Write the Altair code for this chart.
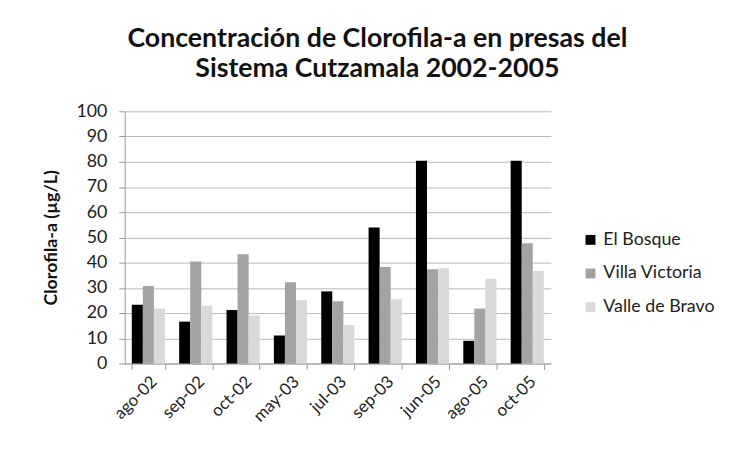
import altair as alt
import pandas as pd

months = ["ago-02", "sep-02", "oct-02", "may-03", "jul-03", "sep-03", "jun-05", "ago-05", "oct-05"]
series = ["El Bosque", "Villa Victoria", "Valle de Bravo"]
el_bosque = [23.3, 16.6, 21.2, 11.1, 28.6, 53.9, 80.4, 9.0, 80.4]
villa_victoria = [30.7, 40.4, 43.3, 32.2, 24.7, 38.3, 37.4, 21.8, 47.7]
valle_bravo = [21.8, 22.9, 19.0, 25.1, 15.3, 25.5, 37.8, 33.6, 36.7]
colors = ["#000000", "#a3a3a3", "#d9d9d9"]

rows = []
for name, vals in zip(series, [el_bosque, villa_victoria, valle_bravo]):
    for m, v in zip(months, vals):
        rows.append({"mes": m, "presa": name, "valor": v})
df = pd.DataFrame(rows)

FONT = "Lato"

chart = alt.Chart(df).mark_bar().encode(
    x=alt.X("mes:N", sort=months, title=None,
            scale=alt.Scale(paddingInner=0.3, paddingOuter=0.15),
            axis=alt.Axis(labelAngle=-45, labelFontSize=17, labelColor="#222",
                          tickBand="extent", grid=False, domainColor="#999",
                          tickColor="#999", tickSize=6, labelPadding=4)),
    xOffset=alt.XOffset("presa:N", sort=series),
    y=alt.Y("valor:Q", title="Clorofila-a (µg/L)",
            scale=alt.Scale(domain=[0, 100]),
            axis=alt.Axis(values=list(range(0, 101, 10)), labelFontSize=18,
                          labelColor="#222", titleFontSize=18, titleFontWeight="bold",
                          titleColor="#111", gridColor="#b8b8b8", domainColor="#999",
                          tickColor="#999", tickSize=6, labelPadding=12, titlePadding=16)),
    color=alt.Color("presa:N", sort=series,
                    scale=alt.Scale(domain=series, range=colors),
                    legend=alt.Legend(title=None, orient="none", legendX=462, legendY=121,
                                      symbolType="square", symbolSize=100,
                                      symbolStrokeWidth=0, labelFontSize=18,
                                      labelColor="#222", rowPadding=16)),
).properties(
    width=431,
    height=255,
    autosize=alt.AutoSizeParams(type="none"),
    padding={"left": 118, "top": 102, "right": 174, "bottom": 85},
    title=alt.TitleParams(
        ["Concentración de Clorofila-a en presas del", "Sistema Cutzamala 2002-2005"],
        anchor="middle", fontSize=27, font=FONT, fontWeight="bold", color="#111",
        lineHeight=30, offset=20, dx=40),
).configure(font=FONT).configure_view(stroke=None)

chart.save("out.html", embed_options={"renderer": "svg", "actions": False})
